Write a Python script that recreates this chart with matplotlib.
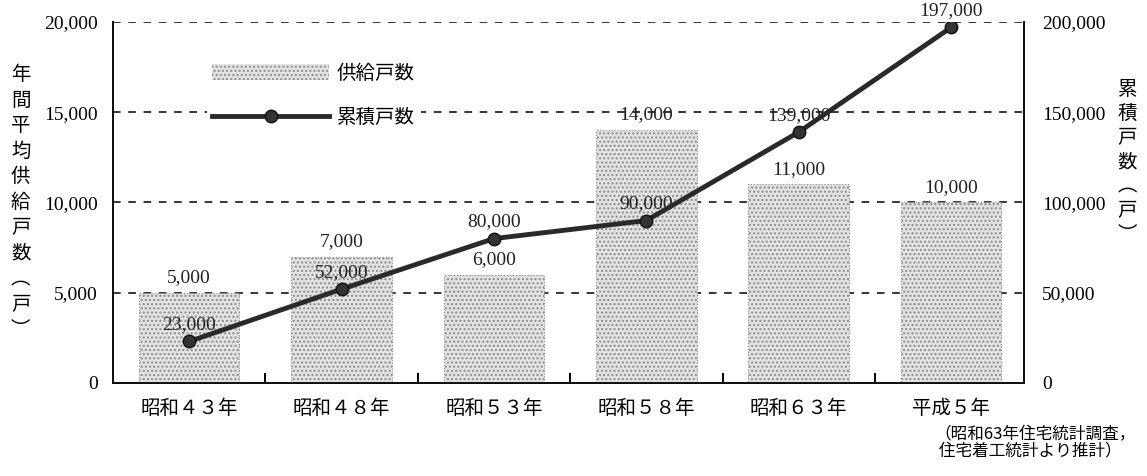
import matplotlib
matplotlib.use("Agg")
import matplotlib.pyplot as plt
from matplotlib.patches import Patch
from matplotlib.lines import Line2D

# data
years = ["昭和４３年", "昭和４８年", "昭和５３年", "昭和５８年", "昭和６３年", "平成５年"]
supply = [5000, 7000, 6000, 14000, 11000, 10000]          # 年間平均供給戸数
cumulative = [23000, 52000, 80000, 90000, 139000, 197000]  # 累積戸数

num_font = ["Liberation Serif", "Noto Sans CJK JP"]
jp_font = ["Noto Sans CJK JP", "DejaVu Sans"]

fig = plt.figure(figsize=(11.47, 4.76), dpi=100)
ax = fig.add_axes([0.0985, 0.1954, 0.7945, 0.7584])
ax2 = ax.twinx()

x = list(range(len(years)))

# bars
ax.bar(x, supply, width=0.66, facecolor="#e2e2e2", edgecolor="#8c8c8c",
       hatch="....", linewidth=0.8, linestyle=":", zorder=3)
for xi, v in zip(x, supply):
    ax.text(xi, v + 850, f"{v:,}", ha="center", va="center",
            fontsize=14, family=num_font, color="#222")

# grid lines on the left scale
for g in [5000, 10000, 15000, 20000]:
    ax.axhline(g, color="black", lw=1.1, ls=(0, (5, 5)), zorder=1)

ax.set_xlim(-0.5, 5.48)
ax.set_ylim(0, 20000)
ax.set_yticks([0, 5000, 10000, 15000, 20000])
ax.set_yticklabels([f"{v:,}" for v in [0, 5000, 10000, 15000, 20000]],
                   family=num_font, fontsize=14)
ax.tick_params(axis="y", length=0, pad=11)

# category labels below, small ticks at the boundaries
ax.set_xticks(x)
ax.set_xticklabels(years, family=jp_font, fontsize=14)
ax.tick_params(axis="x", which="major", length=0, pad=11)
ax.set_xticks([i + 0.5 for i in x[:-1]], minor=True)
ax.tick_params(axis="x", which="minor", direction="in", length=7,
               width=1.4, color="black")

# cumulative line
ax2.plot(x, cumulative, color="#2a2a2a", lw=3.5, marker="o", markersize=9,
         markerfacecolor="#333", markeredgecolor="#111", zorder=5)
for xi, v in zip(x, cumulative):
    ax2.text(xi, v + 9400, f"{v:,}", ha="center", va="center",
             fontsize=14, family=num_font, color="#222")
ax2.set_ylim(0, 200000)
ax2.set_yticks([0, 50000, 100000, 150000, 200000])
ax2.set_yticklabels([f"{v:,}" for v in [0, 50000, 100000, 150000, 200000]],
                    family=num_font, fontsize=14)
ax2.tick_params(axis="y", length=0, pad=13)

for a in (ax, ax2):
    a.spines["top"].set_visible(False)
    for s in ("left", "right", "bottom"):
        a.spines[s].set_linewidth(1.4)
        a.spines[s].set_color("#111")

# vertical axis titles
fig.text(0.018, 0.575, "\n".join("年間平均供給戸数") + "\n︵\n戸\n︶",
         ha="center", va="center", fontsize=14, family=jp_font,
         linespacing=1.28)
fig.text(0.983, 0.66, "\n".join("累積戸数") + "\n︵\n戸\n︶",
         ha="center", va="center", fontsize=14, family=jp_font,
         linespacing=1.2)

# legend
handles = [
    Patch(facecolor="#e2e2e2", edgecolor="#8c8c8c", hatch="....", lw=0),
    Line2D([0], [0], color="#2a2a2a", lw=3.5, marker="o", markersize=9,
           markerfacecolor="#333", markeredgecolor="#111"),
]
leg = ax.legend(handles, ["供給戸数", "累積戸数"], loc="upper left",
                bbox_to_anchor=(0.092, 0.93), frameon=True, handlelength=6,
                handleheight=0.9, labelspacing=1.2, handletextpad=0.4,
                borderpad=0.3, prop={"family": jp_font, "size": 14})
leg.get_frame().set_facecolor("white")
leg.get_frame().set_edgecolor("none")
leg.get_frame().set_alpha(1)
leg.set_zorder(10)

# source note
fig.text(0.815, 0.104, "（昭和63年住宅統計調査，\n 住宅着工統計より推計）",
         ha="left", va="top", fontsize=12, family=jp_font, linespacing=0.95)

fig.savefig("out.png", dpi=100)
